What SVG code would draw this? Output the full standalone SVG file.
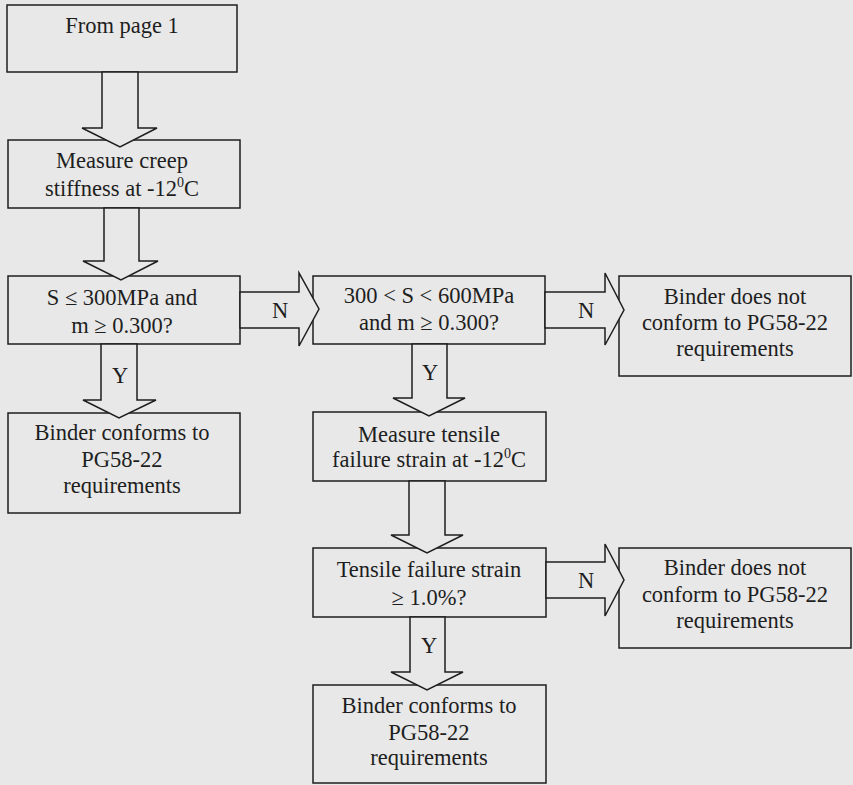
<svg xmlns="http://www.w3.org/2000/svg" width="853" height="785" viewBox="0 0 853 785">
<style>
.bg{fill:#e8e8e8}
.box{fill:#e8e8e8;stroke:#1e1e1e;stroke-width:1.5}
.arr{fill:#e8e8e8;stroke:#1e1e1e;stroke-width:1.5;stroke-linejoin:miter}
</style>
<rect class="bg" x="0" y="0" width="853" height="785"/>
<g font-family="Liberation Serif, serif" font-size="22.5" fill="#1e1e1e" text-anchor="middle">
<g id="n1"><rect class="box" x="7" y="5" width="230" height="67"/><text x="122" y="33" font-family="Liberation Serif">From page 1</text></g>
<g id="n2"><rect class="box" x="8" y="140" width="232" height="68"/><text x="122" y="168" font-family="Liberation Serif">Measure creep</text><text x="122" y="196" font-family="Liberation Serif">stiffness at -12<tspan font-size="14" dy="-9">0</tspan><tspan dy="9">C</tspan></text></g>
<g id="n3"><rect class="box" x="8" y="276" width="232" height="68"/><text x="122" y="305" font-family="Liberation Serif">S ≤ 300MPa and</text><text x="122" y="333" font-family="Liberation Serif">m ≥ 0.300?</text></g>
<g id="n4"><rect class="box" x="8" y="413" width="232" height="100"/><text x="122" y="440" font-family="Liberation Serif">Binder conforms to</text><text x="122" y="467" font-family="Liberation Serif">PG58-22</text><text x="122" y="493" font-family="Liberation Serif">requirements</text></g>
<g id="n5"><rect class="box" x="313" y="276" width="232" height="68"/><text x="429" y="303" font-family="Liberation Serif">300 &lt; S &lt; 600MPa</text><text x="429" y="330" font-family="Liberation Serif">and m ≥ 0.300?</text></g>
<g id="n6"><rect class="box" x="619" y="276" width="232" height="100"/><text x="735" y="304" font-family="Liberation Serif">Binder does not</text><text x="735" y="330" font-family="Liberation Serif">conform to PG58-22</text><text x="735" y="356" font-family="Liberation Serif">requirements</text></g>
<g id="n7"><rect class="box" x="313" y="412" width="233" height="69"/><text x="429" y="442" font-family="Liberation Serif">Measure tensile</text><text x="429" y="467" font-family="Liberation Serif">failure strain at -12<tspan font-size="14" dy="-9">0</tspan><tspan dy="9">C</tspan></text></g>
<g id="n8"><rect class="box" x="313" y="548" width="233" height="69"/><text x="429" y="577" font-family="Liberation Serif">Tensile failure strain</text><text x="429" y="605" font-family="Liberation Serif">≥ 1.0%?</text></g>
<g id="n9"><rect class="box" x="619" y="548" width="232" height="100"/><text x="735" y="575" font-family="Liberation Serif">Binder does not</text><text x="735" y="602" font-family="Liberation Serif">conform to PG58-22</text><text x="735" y="628" font-family="Liberation Serif">requirements</text></g>
<g id="n10"><rect class="box" x="313" y="685" width="233" height="98"/><text x="429" y="713" font-family="Liberation Serif">Binder conforms to</text><text x="429" y="740" font-family="Liberation Serif">PG58-22</text><text x="429" y="765" font-family="Liberation Serif">requirements</text></g>
<g id="connectors">
<polygon class="arr" points="102,72 138,72 138,128 157,128 120,147 82,128 102,128"/>
<polygon class="arr" points="104,208 139,208 139,261 158,261 121,280 83,261 104,261"/>
<polygon class="arr" points="101,344 137,344 137,400 156,400 119,418 83,400 101,400"/>
<text x="120" y="383" font-family="Liberation Serif">Y</text>
<polygon class="arr" points="240,292 299,292 299,273 319,309 299,346 299,328 240,328"/>
<text x="280" y="318" font-family="Liberation Serif">N</text>
<polygon class="arr" points="545,292 605,292 605,273 624,310 605,345 605,328 545,328"/>
<text x="586" y="318" font-family="Liberation Serif">N</text>
<polygon class="arr" points="412,344 447,344 447,398 465,398 429,416 393,398 412,398"/>
<text x="430" y="380" font-family="Liberation Serif">Y</text>
<polygon class="arr" points="409,481 445,481 445,535 463,535 427,553 391,535 409,535"/>
<polygon class="arr" points="546,562 605,562 605,544 624,580 605,616 605,598 546,598"/>
<text x="586" y="588" font-family="Liberation Serif">N</text>
<polygon class="arr" points="410,617 445,617 445,672 463,672 427,690 391,672 410,672"/>
<text x="429" y="653" font-family="Liberation Serif">Y</text>
</g>
</g>
</svg>
